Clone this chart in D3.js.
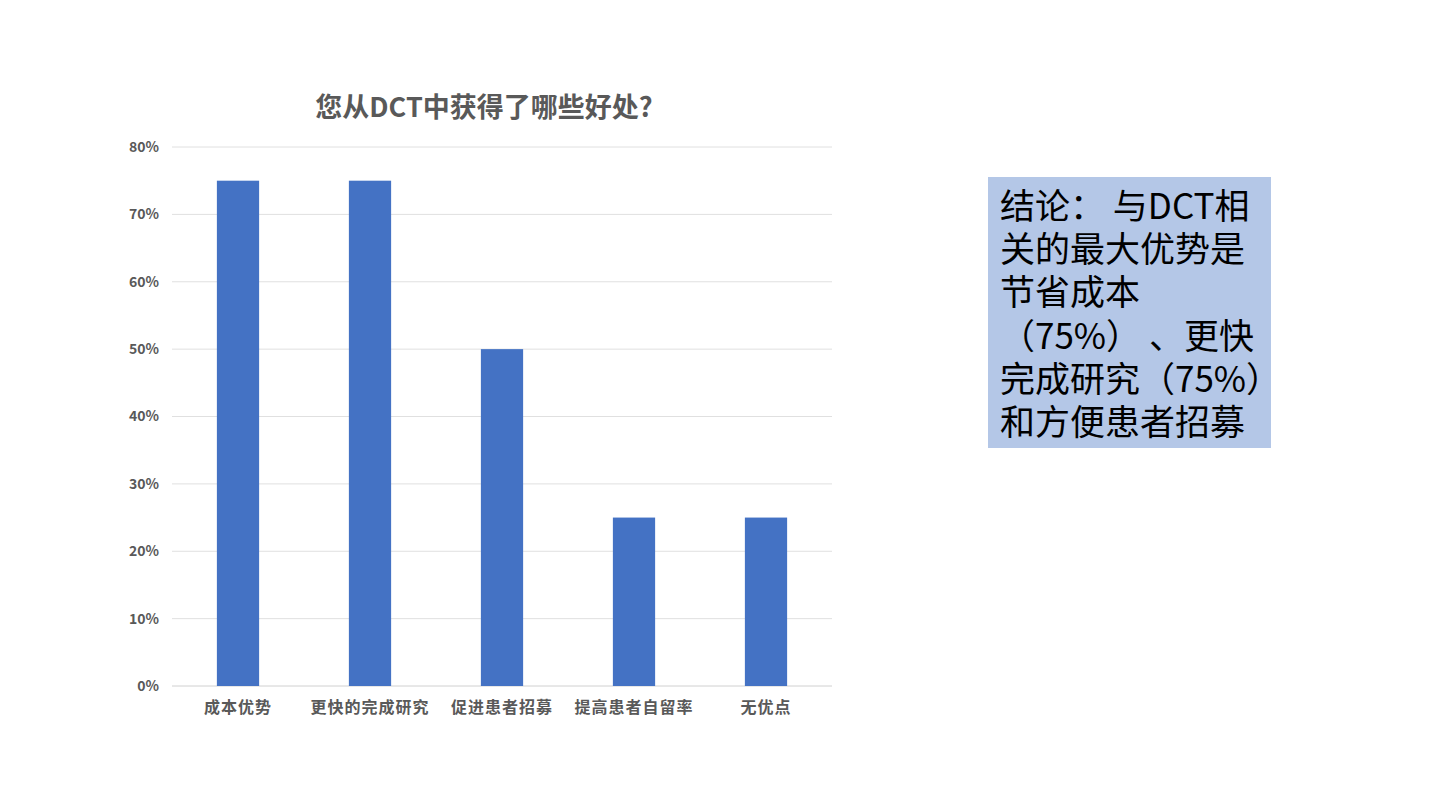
<!DOCTYPE html>
<html><head><meta charset="utf-8">
<script src="https://cdn.jsdelivr.net/npm/d3@7/dist/d3.min.js"></script>
<style>body{margin:0;background:#fff;} svg{display:block;}</style>
</head><body>
<svg id="c" width="1440" height="810"></svg>
<script>
const categories = ["成本优势","更快的完成研究","促进患者招募","提高患者自留率","无优点"];
const values = [0.75, 0.75, 0.50, 0.25, 0.25];
const yTicks = [0,0.1,0.2,0.3,0.4,0.5,0.6,0.7,0.8];
const title = "您从DCT中获得了哪些好处?";
const noteLines = ["结论： 与DCT相","关的最大优势是","节省成本","（75%） 、更快","完成研究（75%）","和方便患者招募"];

const svg = d3.select("#c");
const font = "'Noto Sans CJK SC','Noto Sans',sans-serif";
const x = d3.scaleBand().domain(categories).range([172,832]).paddingInner(0.68).paddingOuter(0.34);
const y = d3.scaleLinear().domain([0,0.8]).range([686,147]);

// gridlines
svg.append("g").selectAll("line").data(yTicks).join("line")
  .attr("x1",172).attr("x2",832).attr("y1",d=>y(d)).attr("y2",d=>y(d))
  .attr("stroke",d=>d===0?"#d0d0d0":"#e0e0e0").attr("stroke-width",1);

// y axis labels
const yAxis = d3.axisLeft(y).tickValues(yTicks).tickFormat(d=>Math.round(d*100)+"%").tickSize(0).tickPadding(13);
const ya = svg.append("g").attr("transform","translate(172,0)").call(yAxis);
ya.select(".domain").remove();
ya.selectAll("text").attr("font-family",font).attr("font-size",14).attr("font-weight","bold").attr("fill","#595959");

// bars
svg.append("g").selectAll("rect").data(values).join("rect")
  .attr("x",(d,i)=>x(categories[i])).attr("width",x.bandwidth())
  .attr("y",d=>y(d)).attr("height",d=>y(0)-y(d)).attr("fill","#4472c4");

// x axis labels
const xAxis = d3.axisBottom(x).tickSize(0).tickPadding(16);
const xa = svg.append("g").attr("transform","translate(0,686)").call(xAxis);
xa.select(".domain").remove();
xa.selectAll("text").attr("font-family",font).attr("font-size",16).attr("letter-spacing","1px").attr("font-weight","bold").attr("fill","#595959");

// title
svg.append("text").attr("x",484).attr("y",117).attr("text-anchor","middle")
  .attr("font-family",font).attr("font-size",27).attr("font-weight","bold").attr("fill","#595959").text(title);

// note box
svg.append("rect").attr("x",988).attr("y",177).attr("width",283).attr("height",271).attr("fill","#b4c7e7");
svg.append("g").selectAll("text").data(noteLines).join("text")
  .attr("font-family",font).attr("font-size",35).attr("fill","#000")
  .attr("x",1000).attr("y",(d,i)=>219+i*43.2).text(d=>d);
</script>
</body></html>
